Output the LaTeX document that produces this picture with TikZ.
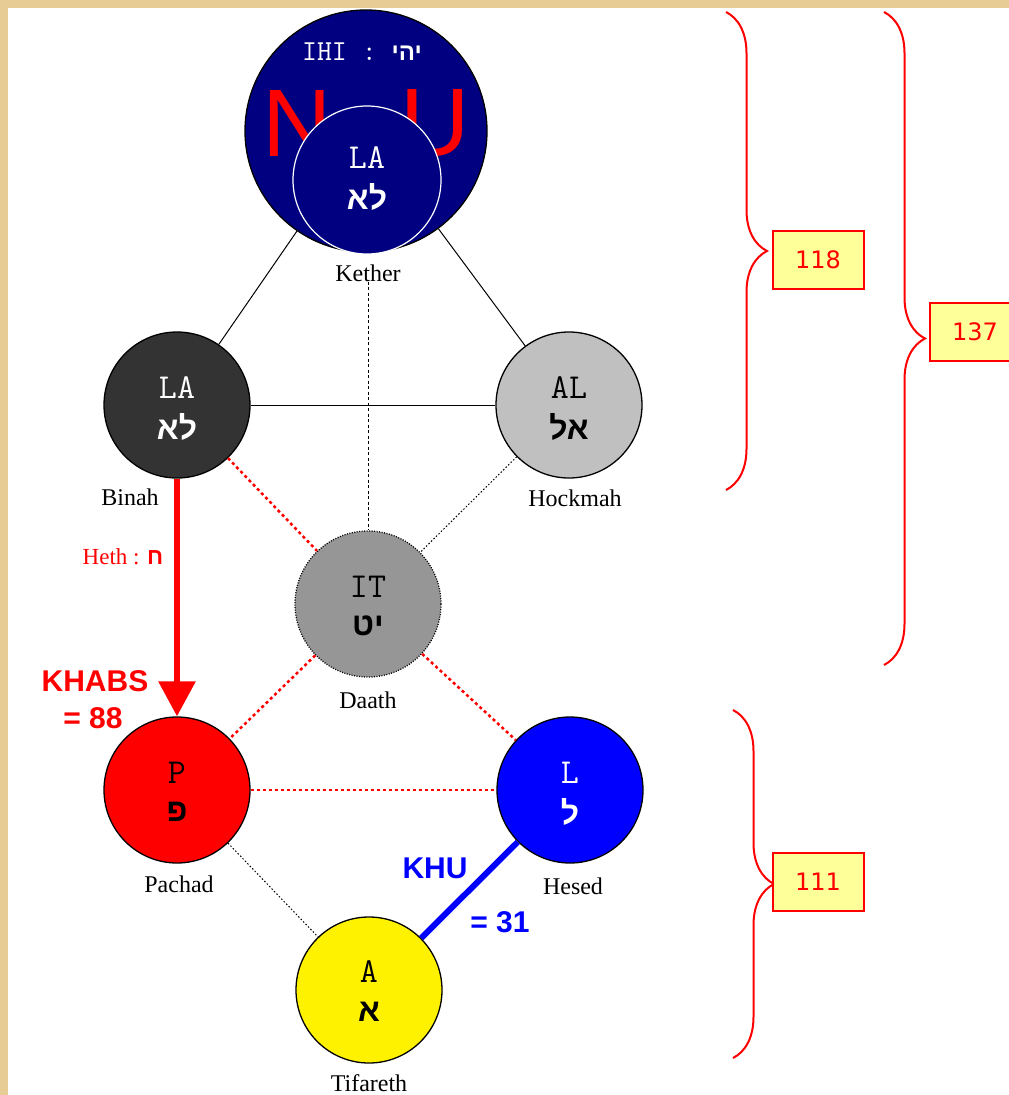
\documentclass[tikz,border=0pt]{standalone}
\usepackage{fontspec}
\setmainfont{Liberation Serif}
\newfontfamily\arialfont{Liberation Sans}
\newfontfamily\verdanafont{DejaVu Sans}
\newfontfamily\hebrewfont[Script=Hebrew]{Liberation Sans}
\TeXXeTstate=1
\usetikzlibrary{arrows.meta,decorations.pathreplacing,positioning}

\definecolor{frametan}{RGB}{232,204,150}
\definecolor{ketherblue}{RGB}{0,0,128}
\definecolor{binahgray}{RGB}{51,51,51}
\definecolor{hockmahgray}{RGB}{192,192,192}
\definecolor{daathgray}{RGB}{150,150,150}
\definecolor{boxyellow}{RGB}{255,255,153}
\newcommand{\heb}[1]{{\hebrewfont\bfseries\beginR #1\endR}}

\tikzset{
  sephira/.style={circle, draw=black, line width=1.3pt, minimum size=146pt, inner sep=0pt},
  latinchar/.style={font=\ttfamily\fontsize{35}{35}\selectfont, inner sep=0pt},
  hebchar/.style={font=\fontsize{32}{32}\selectfont, inner sep=0pt},
  sephname/.style={font=\fontsize{24}{24}\selectfont, inner sep=0pt},
  bigletter/.style={font=\arialfont\fontsize{96}{96}\selectfont, text=red, inner sep=0pt},
  pathname/.style={font=\arialfont\bfseries\fontsize{30}{30}\selectfont, inner sep=0pt},
  thinline/.style={black, line width=1pt},
  blackdots/.style={black, line width=1pt, dash pattern=on 1.5pt off 2pt},
  reddots/.style={red, line width=2.5pt, dash pattern=on 3pt off 3pt},
  bracket/.style={red, line width=2pt, decorate, decoration={brace, amplitude=41pt}},
  numbox/.style={draw=red, line width=2pt, fill=boxyellow, text=red,
    minimum width=91pt, minimum height=58pt, inner sep=0pt,
    font=\verdanafont\fontsize{24}{24}\selectfont}
}

\begin{document}
\begin{tikzpicture}[x=1pt,y=-1pt]
\useasboundingbox (0,0) rectangle (1009,1095);
\fill[white] (0,0) rectangle (1009,1095);
\fill[frametan] (0,0) rectangle (1009,8);
\fill[frametan] (0,0) rectangle (8,1095);

% Crown
\node[sephira, fill=ketherblue, minimum size=242pt] (kether) at (366,131) {};
\node[bigletter] (nletter) at (297,123) {N};
\node[bigletter] (uletter) at (435,123) {U};
\node[font=\ttfamily\fontsize{29}{29}\selectfont, text=white, inner sep=0pt] (ihi) at (362,52)
  {IHI : {\fontsize{24}{24}\selectfont\heb{יהי}}};
\node[sephira, draw=white, line width=1.2pt, fill=ketherblue, minimum size=148pt] (kinner) at (367,180) {};
\node[latinchar, text=white] at ([yshift=22pt]kinner.center) {LA};
\node[hebchar, text=white] at ([yshift=-17pt]kinner.center) {\heb{לא}};
\node[sephname] (ketherlbl) at (368,273) {Kether};

% Second row
\node[sephira, fill=binahgray] (binah) at (177,405) {};
\node[latinchar, text=white] at ([yshift=17pt]binah.center) {LA};
\node[hebchar, text=white] at ([yshift=-22pt]binah.center) {\heb{לא}};
\node[sephname] (binahlbl) at (130,497) {Binah};
\node[sephira, fill=hockmahgray] (hockmah) at (569,405) {};
\node[latinchar] at ([yshift=17pt]hockmah.center) {AL};
\node[hebchar] at ([yshift=-22pt]hockmah.center) {\heb{אל}};
\node[sephname] (hockmahlbl) at (575,498) {Hockmah};

% Hidden one
\node[sephira, fill=daathgray, dash pattern=on 1pt off 1.5pt] (daath) at (368,604) {};
\node[latinchar] at ([yshift=17pt]daath.center) {IT};
\node[hebchar] at ([yshift=-22pt]daath.center) {\heb{יט}};
\node[sephname] (daathlbl) at (368,700) {Daath};

% Third row
\node[sephira, fill=red] (pachad) at (177,790) {};
\node[latinchar] at ([yshift=17pt]pachad.center) {P};
\node[hebchar] at ([yshift=-22pt]pachad.center) {\heb{פ}};
\node[sephname] (pachadlbl) at (179,884) {Pachad};
\node[sephira, fill=blue] (hesed) at (570,790) {};
\node[latinchar, text=white] at ([yshift=17pt]hesed.center) {L};
\node[hebchar, text=white] at ([yshift=-22pt]hesed.center) {\heb{ל}};
\node[sephname] (hesedlbl) at (573,886) {Hesed};
\node[sephira, fill=yellow] (tifareth) at (369,990) {};
\node[latinchar] at ([yshift=18pt]tifareth.center) {A};
\node[hebchar] at ([yshift=-22pt]tifareth.center) {\heb{א}};
\node[sephname] (tifarethlbl) at (369,1083) {Tifareth};

%%% Paths
\draw[thinline] (kether) -- (binah);
\draw[thinline] (kether) -- (hockmah);
\draw[thinline] (binah) -- (hockmah);
\draw[black, line width=0.8pt, dash pattern=on 3pt off 2.5pt] (ketherlbl.south) -- (daath.north);
\draw[blackdots] (hockmah) -- (daath);
\draw[reddots] (binah) -- (daath);
\draw[reddots] (daath) -- (pachad);
\draw[reddots] (daath) -- (hesed);
\draw[reddots] (pachad) -- (hesed);
\draw[blackdots] (pachad) -- (tifareth);
\draw[blue, line width=6pt] (hesed) -- (tifareth);
\draw[red, line width=6pt, -{Triangle[width=36pt,length=35pt]}] (binah.south) -- (pachad.north);

\node[font=\fontsize{23}{23}\selectfont, text=red, inner sep=0pt] (heth) at (123,557) {Heth : \heb{ח}};
\node[pathname, text=red] (khabs) at (95,681) {KHABS};
\node[pathname, text=red] (khabsval) at (93,718) {= 88};
\node[pathname, text=blue] (khu) at (435,868) {KHU};
\node[pathname, text=blue] (khuval) at (500,922) {= 31};

% Sums
\coordinate (top118) at (726,12);
\coordinate (bot118) at (726,490);
\draw[bracket] (top118) -- (bot118);
\node[numbox] (sum118) at (818,260) {118};
\coordinate (top137) at (884,12);
\coordinate (bot137) at (884,665);
\draw[bracket] (top137) -- (bot137);
\node[numbox] (sum137) at (975,332) {137};
\coordinate (top111) at (733,710);
\coordinate (bot111) at (733,1058);
\draw[bracket] (top111) -- (bot111);
\node[numbox] (sum111) at (818,882) {111};
\end{tikzpicture}
\end{document}
